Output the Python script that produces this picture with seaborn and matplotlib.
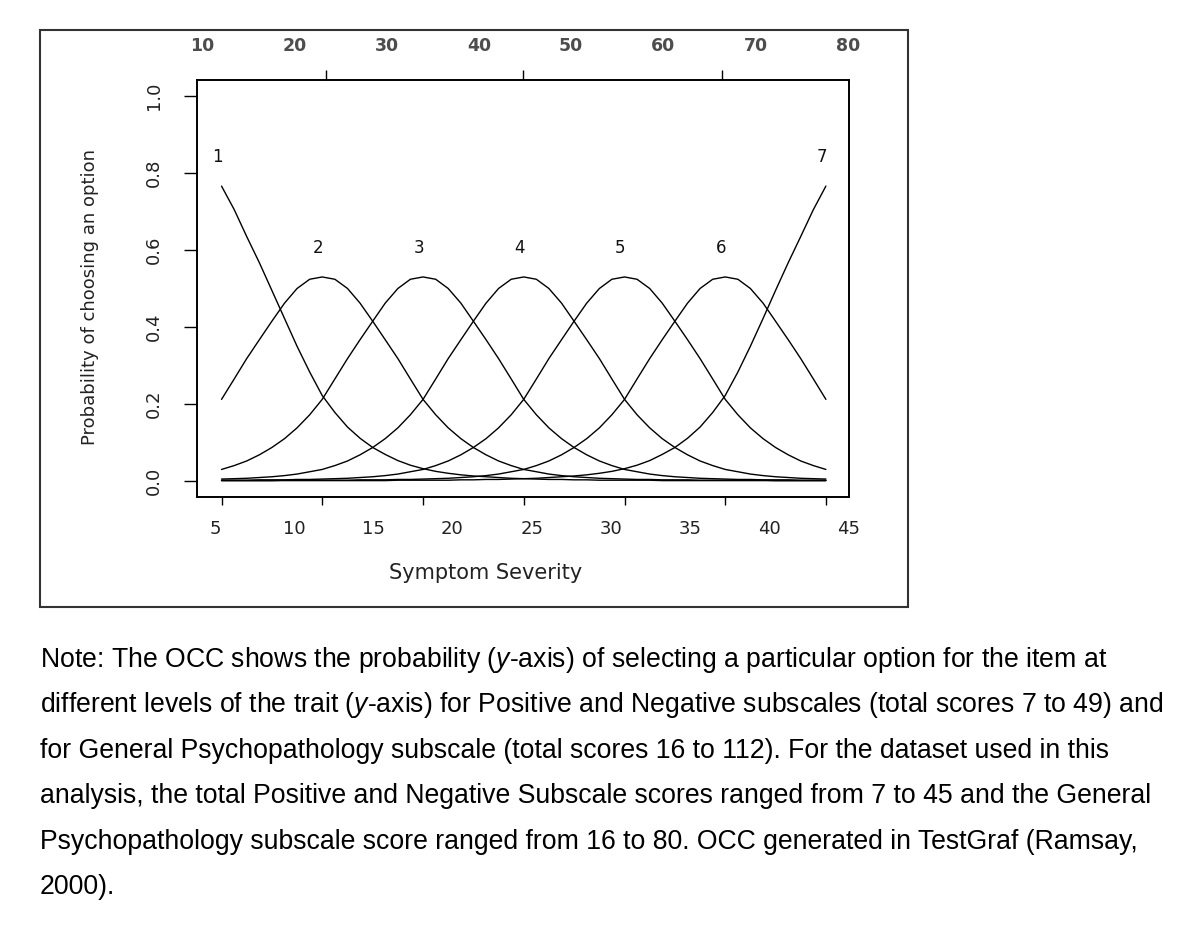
import matplotlib
matplotlib.use("Agg")
import numpy as np
import pandas as pd
import seaborn as sns
import matplotlib.pyplot as plt
from matplotlib.patches import Rectangle
from matplotlib.ticker import FixedLocator

# Symptom severity (bottom scale) where the option curves were read
score = [5.41, 6.21, 7.00, 7.80, 8.59, 9.39, 10.18, 10.98, 11.77, 12.57,
         13.37, 14.16, 14.96, 15.75, 16.55, 17.34, 18.14, 18.94, 19.73, 20.53,
         21.32, 22.12, 22.91, 23.71, 24.50, 25.30, 26.09, 26.89, 27.68, 28.48,
         29.28, 30.07, 30.87, 31.66, 32.46, 33.25, 34.05, 34.85, 35.64, 36.44,
         37.23, 38.03, 38.82, 39.62, 40.41, 41.21, 42.00, 42.80, 43.59]

# Probability of choosing each option (read from the OCC)
opt1 = [0.766, 0.705, 0.635, 0.567, 0.495, 0.422, 0.350, 0.283, 0.222, 0.178,
        0.140, 0.111, 0.087, 0.069, 0.053, 0.041, 0.032, 0.025, 0.020, 0.016,
        0.013, 0.011, 0.009, 0.007, 0.006, 0.005, 0.004, 0.004, 0.003, 0.003,
        0.002, 0.002, 0.002, 0.002, 0.002, 0.001, 0.001, 0.001, 0.001, 0.001,
        0.001, 0.001, 0.001, 0.001, 0.001, 0.001, 0.001, 0.001, 0.001]
opt2 = [0.212, 0.265, 0.318, 0.367, 0.415, 0.462, 0.500, 0.524, 0.530, 0.524,
        0.500, 0.462, 0.415, 0.367, 0.318, 0.265, 0.212, 0.172, 0.138, 0.110,
        0.087, 0.068, 0.052, 0.040, 0.030, 0.024, 0.018, 0.014, 0.011, 0.009,
        0.007, 0.006, 0.005, 0.004, 0.004, 0.003, 0.003, 0.003, 0.002, 0.002,
        0.002, 0.002, 0.002, 0.002, 0.001, 0.001, 0.001, 0.001, 0.001]
opt3 = [0.030, 0.040, 0.052, 0.068, 0.087, 0.110, 0.138, 0.172, 0.212, 0.265,
        0.318, 0.367, 0.415, 0.462, 0.500, 0.524, 0.530, 0.524, 0.500, 0.462,
        0.415, 0.367, 0.318, 0.265, 0.212, 0.172, 0.138, 0.110, 0.087, 0.068,
        0.052, 0.040, 0.030, 0.024, 0.018, 0.014, 0.011, 0.009, 0.007, 0.006,
        0.005, 0.004, 0.004, 0.003, 0.003, 0.003, 0.002, 0.002, 0.002]
opt4 = [0.005, 0.006, 0.007, 0.009, 0.011, 0.014, 0.018, 0.024, 0.030, 0.040,
        0.052, 0.068, 0.087, 0.110, 0.138, 0.172, 0.212, 0.265, 0.318, 0.367,
        0.415, 0.462, 0.500, 0.524, 0.530, 0.524, 0.500, 0.462, 0.415, 0.367,
        0.318, 0.265, 0.212, 0.172, 0.138, 0.110, 0.087, 0.068, 0.052, 0.040,
        0.030, 0.024, 0.018, 0.014, 0.011, 0.009, 0.007, 0.006, 0.005]
opt5 = [0.002, 0.002, 0.002, 0.003, 0.003, 0.003, 0.004, 0.004, 0.005, 0.006,
        0.007, 0.009, 0.011, 0.014, 0.018, 0.024, 0.030, 0.040, 0.052, 0.068,
        0.087, 0.110, 0.138, 0.172, 0.212, 0.265, 0.318, 0.367, 0.415, 0.462,
        0.500, 0.524, 0.530, 0.524, 0.500, 0.462, 0.415, 0.367, 0.318, 0.265,
        0.212, 0.172, 0.138, 0.110, 0.087, 0.068, 0.052, 0.040, 0.030]
opt6 = [0.001, 0.001, 0.001, 0.001, 0.001, 0.002, 0.002, 0.002, 0.002, 0.002,
        0.002, 0.003, 0.003, 0.003, 0.004, 0.004, 0.005, 0.006, 0.007, 0.009,
        0.011, 0.014, 0.018, 0.024, 0.030, 0.040, 0.052, 0.068, 0.087, 0.110,
        0.138, 0.172, 0.212, 0.265, 0.318, 0.367, 0.415, 0.462, 0.500, 0.524,
        0.530, 0.524, 0.500, 0.462, 0.415, 0.367, 0.318, 0.265, 0.212]
opt7 = [0.001, 0.001, 0.001, 0.001, 0.001, 0.001, 0.001, 0.001, 0.001, 0.001,
        0.001, 0.001, 0.001, 0.001, 0.002, 0.002, 0.002, 0.002, 0.002, 0.003,
        0.003, 0.004, 0.004, 0.005, 0.006, 0.007, 0.009, 0.011, 0.013, 0.016,
        0.020, 0.025, 0.032, 0.041, 0.053, 0.069, 0.087, 0.111, 0.140, 0.178,
        0.222, 0.283, 0.350, 0.422, 0.495, 0.567, 0.635, 0.705, 0.766]

option_names = ["1", "2", "3", "4", "5", "6", "7"]
bottom_ticks = [5, 10, 15, 20, 25, 30, 35, 40, 45]
top_ticks = [10, 20, 30, 40, 50, 60, 70, 80]
y_ticks = [0.0, 0.2, 0.4, 0.6, 0.8, 1.0]

caption = [
    "Note: The OCC shows the probability ($\\mathit{y}$-axis) of selecting a particular option for the item at",
    "different levels of the trait ($\\mathit{y}$-axis) for Positive and Negative subscales (total scores 7 to 49) and",
    "for General Psychopathology subscale (total scores 16 to 112). For the dataset used in this",
    "analysis, the total Positive and Negative Subscale scores ranged from 7 to 45 and the General",
    "Psychopathology subscale score ranged from 16 to 80. OCC generated in TestGraf (Ramsay,",
    "2000).",
]

curves = [opt1, opt2, opt3, opt4, opt5, opt6, opt7]
df = pd.concat([pd.DataFrame({"score": score, "prob": c, "option": n})
                for n, c in zip(option_names, curves)], ignore_index=True)

sns.set_theme(style="white")
plt.rcParams["font.family"] = ["DejaVu Sans"]
plt.rcParams["mathtext.fontset"] = "custom"
plt.rcParams["mathtext.rm"] = "Liberation Sans"
plt.rcParams["mathtext.it"] = "Liberation Sans:italic"

W, H = 1200, 940
fig = plt.figure(figsize=(W / 100, H / 100), dpi=100)
fig.patch.set_facecolor("white")

ax = fig.add_axes([197 / W, 1 - 496.5 / H, 652 / W, 416.5 / H])
sns.lineplot(data=df, x="score", y="prob", units="option", estimator=None,
             color="black", lw=1.0, ax=ax, legend=False)

ax.set_xlim(3.86, 45.05)
ax.set_ylim(-0.0403, 1.0416)
for s in ax.spines.values():
    s.set_color("black")
    s.set_linewidth(1.2)

# bottom axis: labels on the score scale, tick marks at the option positions
ax.set_xticks(bottom_ticks)
ax.set_xticklabels([str(t) for t in bottom_ticks])
ax.xaxis.set_minor_locator(FixedLocator(score[::8]))
ax.tick_params(axis="x", which="major", bottom=True, length=0, pad=17,
               labelsize=13, labelcolor="#222222")
ax.tick_params(axis="x", which="minor", bottom=True, length=6, width=1,
               direction="out", color="black")

ax.set_yticks(y_ticks)
ax.set_yticklabels([f"{t:.1f}" for t in y_ticks])
ax.tick_params(axis="y", left=True, length=9.4, width=1, direction="out",
               color="black", pad=15, labelsize=13, labelcolor="#222222",
               labelrotation=90)
for lab in ax.get_yticklabels():
    lab.set_va("center")

ax.set_xlabel("Symptom Severity", fontsize=15, color="#222222")
ax.xaxis.set_label_coords(0.443, -0.184)
ax.xaxis.label.set_va("center")
ax.set_ylabel("Probability of choosing an option", fontsize=13, color="#222222")
ax.yaxis.set_label_coords(-0.164, 0.478)
ax.yaxis.label.set_va("center")

# top axis: total score scale
ax2 = ax.twiny()
ax2.set_xlim(9.458, 80.11)
ax2.set_xticks(top_ticks)
ax2.set_xticklabels([str(t) for t in top_ticks])
ax2.xaxis.set_minor_locator(FixedLocator([23.44, 44.78, 66.35]))
ax2.tick_params(axis="x", which="major", top=True, length=0, pad=18,
                labelsize=12.5, labelcolor="#4d4d4d")
ax2.tick_params(axis="x", which="minor", top=True, length=7, width=1,
                direction="out", color="black")
for lab in ax2.get_xticklabels():
    lab.set_fontweight("bold")
for s in ax2.spines.values():
    s.set_color("black")
    s.set_linewidth(1.2)

# option numbers above each curve's peak
for name, c in zip(option_names, curves):
    i = int(np.argmax(c))
    ax.annotate(name, (score[i], c[i]), xytext=(-3, 21), textcoords="offset points",
                ha="center", va="center", fontsize=12, color="#111111")

# frame around the figure panel
fig.add_artist(Rectangle((40 / W, 1 - 607 / H), 868 / W, 577 / H, transform=fig.transFigure,
                         fill=False, lw=1.5, ec="#333333"))

for k, line in enumerate(caption):
    fig.text(40 / W, 1 - (667 + 45.4 * k) / H, line, fontsize=19.2,
             family="Liberation Sans", va="baseline", color="black")

fig.savefig("out.png", dpi=100)
